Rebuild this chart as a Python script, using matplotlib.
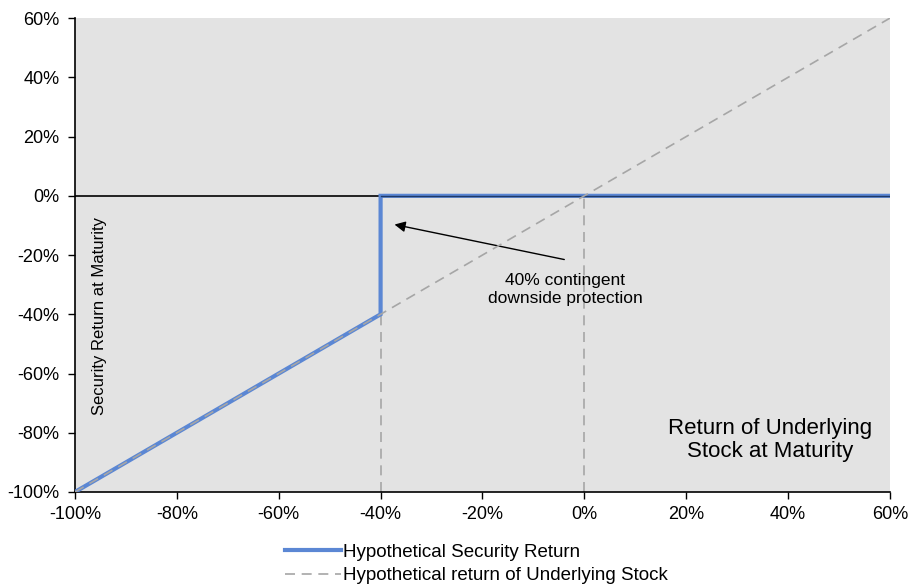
import matplotlib
matplotlib.use("Agg")
import matplotlib.pyplot as plt
from matplotlib.ticker import FuncFormatter

plt.rcParams['font.family'] = ['Liberation Sans', 'DejaVu Sans']

# Data (returns in %)
stock_x = [-100, 60]
stock_y = [-100, 60]
security_x = [-100, -40, -40, 60]
security_y = [-100, -40, 0, 0]
barrier_x = [-40, -40]
barrier_y = [-100, 0]
zero_x = [0, 0]
zero_y = [-100, 0]
xticks = [-100, -80, -60, -40, -20, 0, 20, 40, 60]
yticks = [-100, -80, -60, -40, -20, 0, 20, 40, 60]

fig = plt.figure(figsize=(9.09, 5.85), dpi=100)
ax = fig.add_axes([0.0825, 0.159, 0.8965, 0.810])
ax.set_facecolor('#e3e3e3')

ax.axhline(0, color='black', lw=1.2, zorder=2)
ax.plot(barrier_x, barrier_y, color='#a6a6a6', lw=1.2, ls=(0, (6, 4)), zorder=2)
ax.plot(zero_x, zero_y, color='#a6a6a6', lw=1.2, ls=(0, (6, 4)), zorder=2)
ax.plot(security_x, security_y, color='#5b87d4', lw=3, solid_joinstyle='miter',
        label='Hypothetical Security Return', zorder=3)
ax.plot(security_x[2:], security_y[2:], color='#1f3a68', lw=1, zorder=4)
ax.plot(stock_x, stock_y, color='#a6a6a6', lw=1.2, ls=(0, (6, 4)),
        label='Hypothetical return of Underlying Stock', zorder=4)

ax.set_xlim(-100, 60)
ax.set_ylim(-100, 60)
ax.set_xticks(xticks)
ax.set_yticks(yticks)
fmt = FuncFormatter(lambda v, p: f"{int(v)}%")
ax.xaxis.set_major_formatter(fmt)
ax.yaxis.set_major_formatter(fmt)
ax.tick_params(axis='both', labelsize=13, direction='out', length=5, width=1, colors='black')
ax.tick_params(axis='x', pad=5)
ax.tick_params(axis='y', pad=6)
for s in ['top', 'right']:
    ax.spines[s].set_visible(False)
for s in ['left', 'bottom']:
    ax.spines[s].set_linewidth(1.2)

ax.annotate('', xy=(-37.8, -9.5), xytext=(-3.4, -21.7),
            arrowprops=dict(arrowstyle='-|>', color='black', lw=1, mutation_scale=16))
ax.text(-3.8, -31.5, '40% contingent\ndownside protection', ha='center', va='center',
        fontsize=12.5, linespacing=1.25)
ax.text(36.4, -82.4, 'Return of Underlying\nStock at Maturity', ha='center', va='center',
        fontsize=16, linespacing=1.15)
ax.text(-95.1, -40.5, 'Security Return at Maturity', rotation=90, ha='center', va='center',
        fontsize=12)

fig.legend(loc='upper left', bbox_to_anchor=(0.303, 0.087), frameon=False, fontsize=13.5,
           handlelength=3, handletextpad=0.1, labelspacing=0.35, borderpad=0)

fig.savefig('out.png', dpi=100, facecolor='white')
